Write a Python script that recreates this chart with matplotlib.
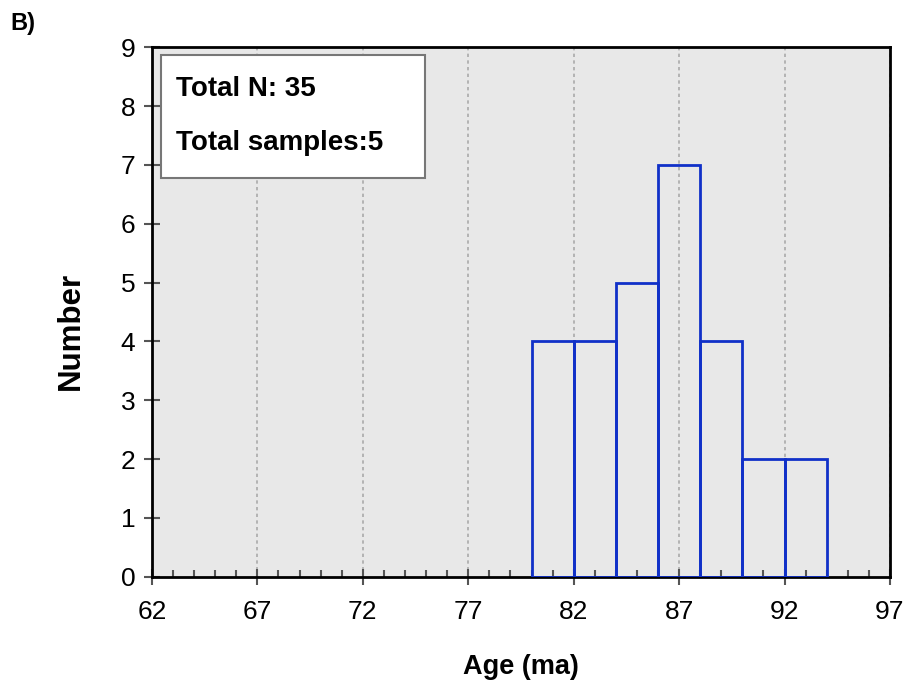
import matplotlib
matplotlib.use("Agg")
import matplotlib.pyplot as plt
from matplotlib.ticker import MultipleLocator
from matplotlib.patches import Rectangle

plt.rcParams['font.family'] = ['Liberation Sans', 'DejaVu Sans']

bin_edges = [80, 82, 84, 86, 88, 90, 92, 94]
counts = [4, 4, 5, 7, 4, 2, 2]
x_ticks = [62, 67, 72, 77, 82, 87, 92, 97]
y_ticks = list(range(0, 10))

fig = plt.figure(figsize=(9.1, 6.85), dpi=100)
ax = fig.add_axes([0.167, 0.158, 0.811, 0.773])
ax.set_facecolor('#e8e8e8')

for i, c in enumerate(counts):
    ax.add_patch(Rectangle((bin_edges[i], 0), bin_edges[i+1]-bin_edges[i], c,
                           facecolor='none', edgecolor='#1030c8', linewidth=2, zorder=3))

ax.set_xlim(62, 97)
ax.set_ylim(0, 9)
ax.set_xticks(x_ticks)
ax.set_xticklabels([str(v) for v in x_ticks], fontsize=19)
ax.set_yticks(y_ticks)
ax.set_yticklabels([str(v) for v in y_ticks], fontsize=19)
ax.xaxis.set_minor_locator(MultipleLocator(1))
ax.tick_params(axis='x', which='major', direction='inout', length=12, width=1.5, colors='#555555', pad=11)
ax.tick_params(axis='x', which='minor', direction='in', length=5, width=1.5, colors='#555555')
ax.tick_params(axis='y', which='major', direction='inout', length=12, width=1.5, colors='#555555', pad=6)
for t in ax.get_xticklabels() + ax.get_yticklabels():
    t.set_color('black')

ax.grid(axis='x', which='major', color='#aaaaaa', linestyle=(0, (2, 2)), linewidth=1.2, zorder=1)
ax.set_axisbelow(True)
for s in ax.spines.values():
    s.set_linewidth(2)
    s.set_color('black')

ax.set_xlabel('Age (ma)', fontsize=19.5, fontweight='bold', va='center')
ax.xaxis.set_label_coords(0.5, -0.17)
ax.set_ylabel('Number', fontsize=22.5, fontweight='bold', va='center')
ax.yaxis.set_label_coords(-0.110, 0.464)

ax.add_patch(Rectangle((0.012, 0.753), 0.358, 0.232, transform=ax.transAxes,
                       facecolor='white', edgecolor='#777777', linewidth=1.5, zorder=5))
ax.text(0.0325, 0.922, 'Total N: 35', transform=ax.transAxes, fontsize=20, fontweight='bold', va='center', zorder=6)
ax.text(0.0325, 0.82, 'Total samples:5', transform=ax.transAxes, fontsize=20, fontweight='bold', va='center', zorder=6)

fig.text(0.011, 0.966, 'B)', fontsize=17, fontweight='bold', va='center')

fig.savefig('out.png', dpi=100)
